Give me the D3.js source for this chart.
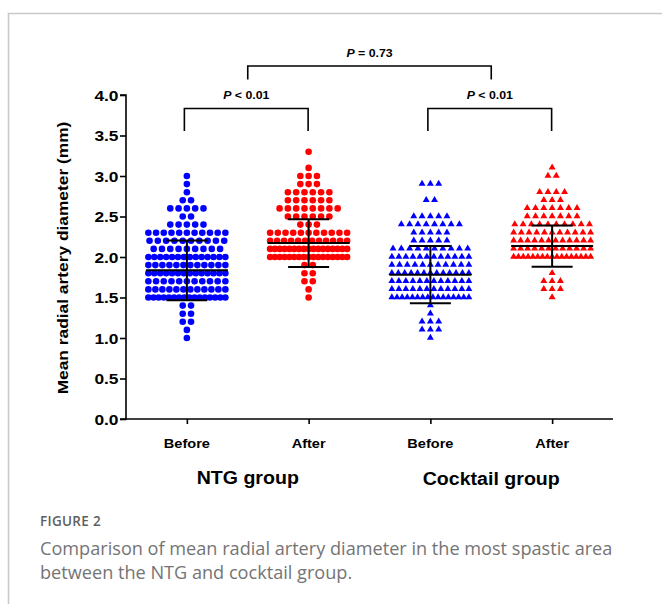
<!DOCTYPE html>
<html>
<head>
<meta charset="utf-8">
<script src="https://cdn.jsdelivr.net/npm/d3@7/dist/d3.min.js"></script>
<style>
  html, body { margin: 0; padding: 0; background: #fff; }
  svg { display: block; }
</style>
</head>
<body>
<svg id="chart" width="662" height="604"></svg>
<script>
// ---------------- DATA ----------------
const categories = ["Before", "After", "Before", "After"];
const groupLabels = ["NTG group", "Cocktail group"];
const yTickValues = [0, 0.5, 1.0, 1.5, 2.0, 2.5, 3.0, 3.5, 4.0];
const yTickLabels = ["0.0", "0.5", "1.0", "1.5", "2.0", "2.5", "3.0", "3.5", "4.0"];
const yTitle = "Mean radial artery diameter (mm)";

// measured diameter levels (mm)
const levels = [1.0, 1.1, 1.2, 1.3, 1.4, 1.5, 1.6, 1.7, 1.8, 1.9, 2.0, 2.1,
                2.2, 2.3, 2.4, 2.5, 2.6, 2.7, 2.8, 2.9, 3.0, 3.1, 3.2, 3.3];
// number of patients at each level
const ntgBefore      = [1, 1, 2, 2, 2, 16, 12, 11, 14, 12, 14, 9, 10, 11, 5, 2, 5, 2, 1, 1, 1, 0, 0, 0];
const ntgAfter       = [0, 0, 0, 0, 0, 1, 1, 2, 2, 2, 17, 17, 12, 11, 3, 6, 8, 6, 6, 3, 3, 1, 0, 1];
const cocktailBefore = [1, 3, 3, 1, 1, 16, 12, 12, 13, 11, 12, 10, 5, 5, 8, 5, 0, 2, 0, 3, 0, 0, 0, 0];
const cocktailAfter  = [0, 0, 0, 0, 0, 1, 3, 3, 1, 0, 17, 12, 12, 11, 10, 7, 7, 3, 4, 0, 2, 1, 0, 0];

const seriesCounts = [ntgBefore, ntgAfter, cocktailBefore, cocktailAfter];
const seriesColors = ["#0000ff", "#ff0000", "#0000ff", "#ff0000"];
const seriesShapes = ["circle", "circle", "triangle", "triangle"];

// mean and SD shown by the error bars
const means = [1.835, 2.172, 1.782, 2.135];
const sds   = [0.370, 0.295, 0.354, 0.255];

// comparison brackets
const comparisons = [
  { a: 0, b: 1, label: "< 0.01", lvl: 0 },
  { a: 2, b: 3, label: "< 0.01", lvl: 0 },
  { a: 0, b: 1, c: 2, d: 3, label: "= 0.73", lvl: 1 }
];

const captionTitle = "FIGURE 2";
const captionLines = [
  "Comparison of mean radial artery diameter in the most spastic area",
  "between the NTG and cocktail group."
];

// ---------------- LAYOUT ----------------
const svg = d3.select("#chart");
const W = 662, H = 604;
const pL = 126, pR = 613, pT = 95, pB = 419;
const SX = 1.12;              // horizontal text stretch
const FONT = "'Liberation Sans', Arial, Helvetica, sans-serif";

// frame
svg.append("path")
  .attr("d", `M8.5,${H} V13.5 H${W}`)
  .attr("fill", "none").attr("stroke", "#c9c9c9").attr("stroke-width", 1.6);

const x = d3.scalePoint().domain(d3.range(categories.length)).range([pL, pR]).padding(0.5);
const y = d3.scaleLinear().domain([0, 4]).range([pB, pT]);

function label(g, px, py, str, size, anchor, opts = {}) {
  const t = g.append("text")
    .attr("transform", `translate(${px},${py}) ${opts.rotate ? "rotate(" + opts.rotate + ")" : ""} scale(${SX},1)`)
    .attr("text-anchor", anchor)
    .attr("font-family", FONT)
    .attr("font-weight", "bold")
    .attr("font-size", size)
    .attr("fill", "#000");
  if (opts.dy) t.attr("dy", opts.dy);
  t.text(str);
  return t;
}

// ---------------- AXES ----------------
const yAxis = d3.axisLeft(y).tickValues(yTickValues).tickSize(6).tickFormat("");
const gy = svg.append("g").attr("transform", `translate(${pL},0)`).call(yAxis);
gy.select(".domain").attr("stroke", "#000").attr("stroke-width", 1.6).attr("d", `M-6,${pT}H0V${pB}H-6`);
gy.selectAll(".tick line").attr("stroke", "#000").attr("stroke-width", 1.6);
yTickValues.forEach((v, i) => label(svg, pL - 7.5, y(v), yTickLabels[i], 15.5, "end", { dy: "0.36em" }));

const xAxis = d3.axisBottom(x).tickSize(5).tickFormat("");
const gx = svg.append("g").attr("transform", `translate(0,${pB})`).call(xAxis);
gx.select(".domain").attr("stroke", "#000").attr("stroke-width", 1.6).attr("d", `M${pL},0H${pR}`);
gx.selectAll(".tick line").attr("stroke", "#000").attr("stroke-width", 1.6);
categories.forEach((c, i) => label(svg, x(i), 448, c, 13, "middle"));
label(svg, (x(0) + x(1)) / 2, 484, groupLabels[0], 17.5, "middle");
label(svg, (x(2) + x(3)) / 2, 485, groupLabels[1], 17.5, "middle");

label(svg, 68, (pT + pB) / 2 + 1, yTitle, 15.5, "middle", { rotate: -90 });

// ---------------- POINTS ----------------
const spacing = 8.3, maxHalf = 38.5;
const tri = d3.symbol().type(d3.symbolTriangle).size(21);

seriesCounts.forEach((counts, si) => {
  const pts = [];
  counts.forEach((n, li) => {
    if (!n) return;
    let s = spacing;
    if ((n - 1) * s / 2 > maxHalf) s = 2 * maxHalf / (n - 1);
    for (let k = 0; k < n; k++) {
      pts.push({ x: x(si) + (k - (n - 1) / 2) * s, y: y(levels[li]) });
    }
  });
  const g = svg.append("g");
  if (seriesShapes[si] === "circle") {
    g.selectAll("circle").data(pts).join("circle")
      .attr("cx", d => d.x).attr("cy", d => d.y).attr("r", 3.3)
      .attr("fill", seriesColors[si]);
  } else {
    g.selectAll("path").data(pts).join("path")
      .attr("d", tri).attr("transform", d => `translate(${d.x},${d.y - 0.3})`)
      .attr("fill", seriesColors[si]);
  }
});

// ---------------- MEAN ± SD ----------------
const eb = svg.append("g").attr("stroke", "#000").attr("stroke-width", 2).attr("fill", "none");
means.forEach((m, i) => {
  const cx = x(i);
  eb.append("line").attr("x1", cx - 41).attr("x2", cx + 41).attr("y1", y(m)).attr("y2", y(m));
  eb.append("line").attr("x1", cx).attr("x2", cx).attr("y1", y(m + sds[i])).attr("y2", y(m - sds[i]));
  eb.append("line").attr("x1", cx - 20.5).attr("x2", cx + 20.5).attr("y1", y(m + sds[i])).attr("y2", y(m + sds[i]));
  eb.append("line").attr("x1", cx - 20.5).attr("x2", cx + 20.5).attr("y1", y(m - sds[i])).attr("y2", y(m - sds[i]));
});

// ---------------- BRACKETS ----------------
const br = svg.append("g").attr("stroke", "#000").attr("stroke-width", 1.6).attr("fill", "none");
function pLabel(px, py, rest) {
  const t = svg.append("text")
    .attr("transform", `translate(${px},${py}) scale(${SX},1)`)
    .attr("text-anchor", "middle")
    .attr("font-family", FONT).attr("font-weight", "bold").attr("font-size", 11);
  t.append("tspan").attr("font-style", "italic").text("P");
  t.append("tspan").text(" " + rest);
}
comparisons.forEach(c => {
  let x1, x2, yTop, yBot, ly;
  if (c.lvl === 0) {
    x1 = x(c.a) - 2.5; x2 = x(c.b) - 0.5; yTop = 108.5; yBot = 131; ly = 98.5;
  } else {
    x1 = (x(c.a) + x(c.b)) / 2; x2 = (x(c.c) + x(c.d)) / 2; yTop = 66; yBot = 79.5; ly = 56.5;
  }
  br.append("path").attr("d", `M${x1},${yBot}V${yTop}H${x2}V${yBot}`);
  pLabel((x1 + x2) / 2, ly, c.label);
});

// ---------------- CAPTION ----------------
svg.append("text").attr("x", 40).attr("y", 526)
  .attr("font-family", "'Open Sans', sans-serif").attr("font-weight", 600)
  .attr("font-size", 13.5).attr("letter-spacing", 0.3).attr("fill", "#5f5f5f").text(captionTitle);

const cap = svg.append("g").attr("font-family", "'Open Sans', sans-serif")
  .attr("font-weight", 400).attr("fill", "#747474");
const l1 = cap.append("text").attr("x", 40).attr("y", 555).attr("font-size", 17).text(captionLines[0]);
const w1 = l1.node().getComputedTextLength();
const fs = 17 * 573 / w1;
l1.attr("font-size", fs);
cap.append("text").attr("x", 40).attr("y", 579).attr("font-size", fs).text(captionLines[1]);
</script>
</body>
</html>
